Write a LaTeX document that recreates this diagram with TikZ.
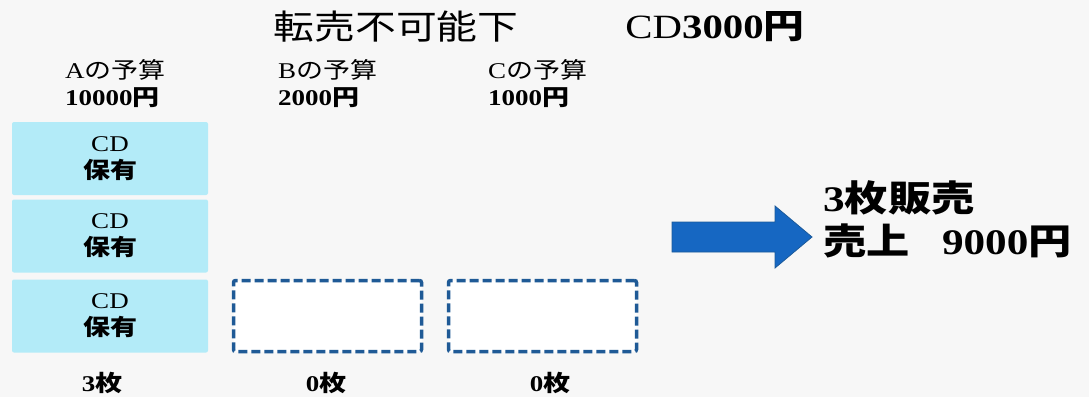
\documentclass[tikz,border=0pt]{standalone}
\usepackage{fontspec}
\setmainfont[FakeStretch=1.2]{Liberation Serif}
\newfontfamily\jp[FakeStretch=1.2]{Noto Sans CJK JP}
\definecolor{bgc}{HTML}{F7F7F7}
\definecolor{cdfill}{HTML}{B3EBF8}
\definecolor{dashc}{HTML}{1F5A96}
\definecolor{arrfill}{HTML}{1667C2}
\definecolor{arrline}{HTML}{1B5A9A}
\begin{document}
\begin{tikzpicture}[x=1pt,y=-1pt,
  txt/.style={inner sep=0pt, align=center, text=black},
  big/.style={txt, font=\fontsize{34}{43}\selectfont},
  mid/.style={txt, font=\fontsize{22.5}{27}\selectfont},
  cdbox/.style={mid, fill=cdfill, rounded corners=2pt, minimum width=196pt, minimum height=73pt},
  emptybox/.style={draw=dashc, line width=3.5pt, dash pattern=on 9pt off 4pt, fill=white, rounded corners=2pt, minimum width=188pt, minimum height=71pt, inner sep=0pt},
  arrowshape/.style={fill=arrfill, draw=arrline, line width=0.8pt, line join=miter}
]
\fill[bgc] (0,0) rectangle (1089,397);
\useasboundingbox (0,0) rectangle (1089,397);

% title
\node[big] (title) at (396,27) {{\jp 転売不可能下}};
\node[big] (price) at (715,27) {CD\textbf{3000{\jp 円}}};

% budgets
\node[mid, anchor=west, align=left] (budA) at (65,83.5) {A{\jp の予算}\\\textbf{10000{\jp 円}}};
\node[mid, anchor=west, align=left] (budB) at (278,83.5) {B{\jp の予算}\\\textbf{2000{\jp 円}}};
\node[mid, anchor=west, align=left] (budC) at (488,83.5) {C{\jp の予算}\\\textbf{1000{\jp 円}}};

% CD boxes
\node[cdbox] (cd1) at (110,158.5) {CD\\{\jp\bfseries 保有}};
\node[cdbox] (cd2) at (110,236) {CD\\{\jp\bfseries 保有}};
\node[cdbox] (cd3) at (110,316) {CD\\{\jp\bfseries 保有}};

% empty boxes
\node[emptybox] (eb) at (327.5,316) {};
\node[emptybox] (ec) at (542.5,316) {};

% counts
\node[mid] (nA) at (102,383) {\textbf{3{\jp 枚}}};
\node[mid] (nB) at (326,383) {\textbf{0{\jp 枚}}};
\node[mid] (nC) at (550,383) {\textbf{0{\jp 枚}}};

% arrow
\draw[arrowshape] (672,222) -- (775,222) -- (775,206) -- (812,237) -- (775,268) -- (775,252) -- (672,252) -- cycle;

% result
\node[big, anchor=west, align=left, font=\fontsize{36}{43}\selectfont] (res) at (823,219.5) {\textbf{3{\jp 枚販売}}\\\textbf{{\jp 売上}\hspace{0.9em}9000{\jp 円}}};
\end{tikzpicture}
\end{document}
